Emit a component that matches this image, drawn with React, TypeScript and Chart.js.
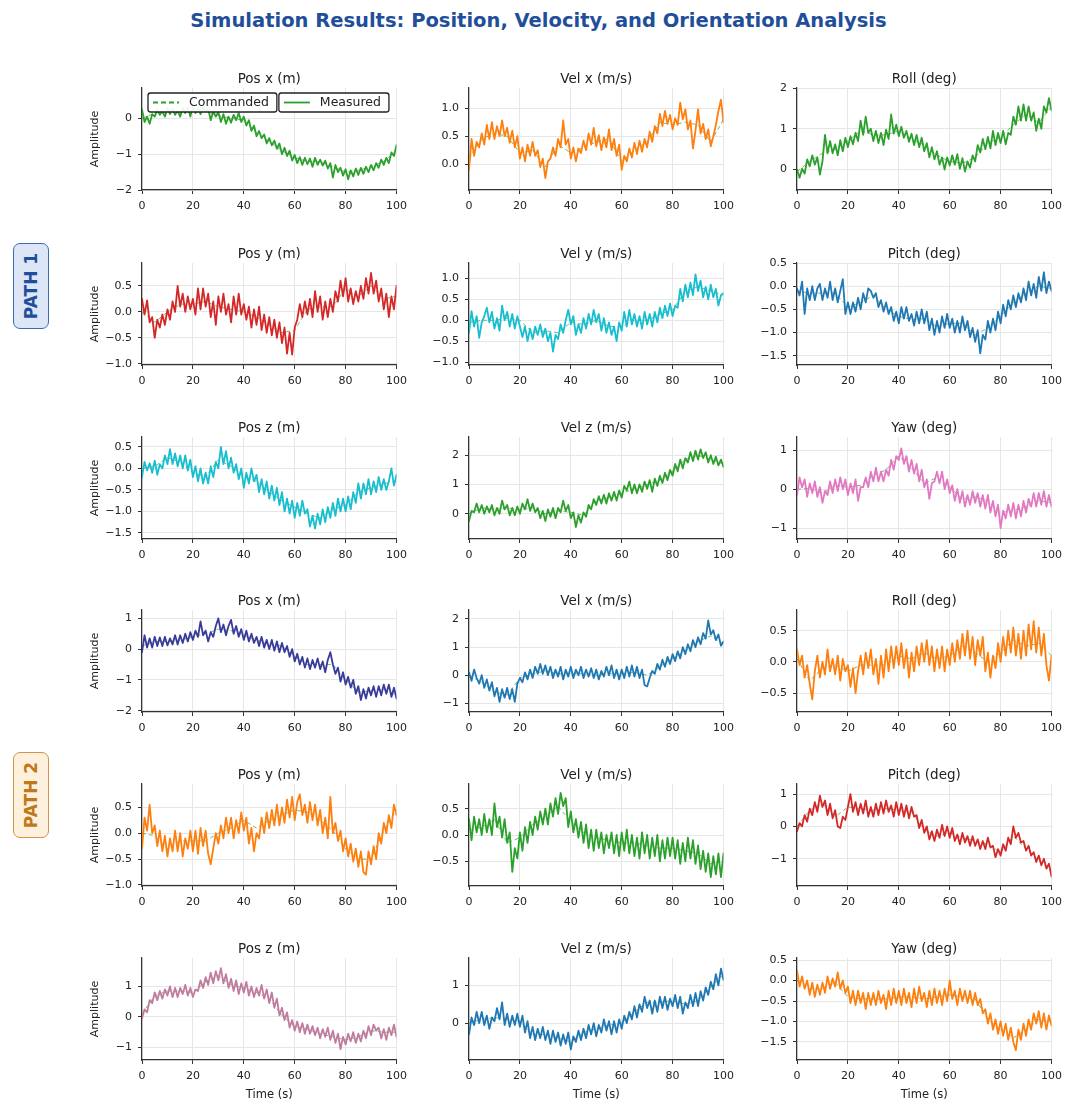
import React, { useEffect, useRef } from 'react';
import { Chart, registerables } from 'chart.js';

Chart.register(...registerables);

const FONT = "'DejaVu Sans', 'Liberation Sans', sans-serif";

// Sample times (s): measured signal every 1 s, commanded set-points every 5 s
const TIME = Array.from({ length: 101 }, (_, i) => i);
const CMD_TIME = Array.from({ length: 21 }, (_, i) => i * 5);
const X_TICKS = [0, 20, 40, 60, 80, 100];

// ---------------- PATH 1 ----------------
const P1_POS_X = [0.25, -0.1, 0.05, -0.15, 0.12, 0.05, 0.25, 0.1, 0.2, 0.05, 0.3, 0.12, 0.28, 0.1, 0.22, 0.05, 0.3, 0.15, 0.32, 0.05, 0.35, 0.15, 0.3, 0.12, 0.35, 0.2, 0.28, -0.05, 0.2, 0.05, 0.18, -0.1, 0.12, -0.15, 0.05, -0.12, 0.1, -0.05, 0.15, -0.1, 0.05, -0.2, -0.05, -0.35, -0.2, -0.5, -0.35, -0.55, -0.45, -0.7, -0.55, -0.75, -0.62, -0.85, -0.7, -1.0, -0.82, -1.05, -0.9, -1.18, -1.02, -1.25, -1.08, -1.3, -1.1, -1.28, -1.12, -1.35, -1.1, -1.3, -1.15, -1.32, -1.18, -1.4, -1.25, -1.65, -1.3, -1.5, -1.38, -1.6, -1.42, -1.7, -1.45, -1.62, -1.4, -1.58, -1.38, -1.55, -1.35, -1.5, -1.3, -1.45, -1.25, -1.38, -1.15, -1.3, -1.1, -1.25, -0.95, -1.05, -0.75];
const P1_POS_X_CMD = [0, 0.15, 0.2, 0.2, 0.22, 0.2, 0.08, 0, -0.05, -0.4, -0.65, -0.9, -1.1, -1.2, -1.22, -1.35, -1.5, -1.45, -1.35, -1.2, -0.9];

const P1_VEL_X = [-0.1, 0.45, 0.15, 0.4, 0.3, 0.55, 0.35, 0.7, 0.45, 0.75, 0.45, 0.68, 0.5, 0.78, 0.5, 0.65, 0.38, 0.6, 0.3, 0.5, 0.1, 0.3, 0.05, 0.35, 0.15, 0.4, 0.15, 0.25, -0.05, 0.1, -0.25, 0.05, 0.1, 0.3, 0.15, 0.45, 0.3, 0.78, 0.35, 0.45, 0.1, 0.3, 0.05, 0.28, 0.2, 0.42, 0.25, 0.55, 0.35, 0.65, 0.32, 0.52, 0.25, 0.48, 0.3, 0.62, 0.25, 0.45, 0.15, 0.35, -0.1, 0.15, 0.05, 0.28, 0.12, 0.38, 0.18, 0.42, 0.22, 0.45, 0.3, 0.58, 0.4, 0.68, 0.55, 0.9, 0.68, 0.95, 0.72, 0.88, 0.62, 0.82, 0.7, 1.1, 0.8, 0.98, 0.62, 0.78, 0.28, 0.6, 0.98, 0.55, 0.72, 0.45, 0.62, 0.32, 0.5, 0.7, 0.95, 1.15, 0.75];
const P1_VEL_X_CMD = [0.1, 0.45, 0.55, 0.5, 0.2, 0.25, -0.05, 0.35, 0.2, 0.3, 0.4, 0.45, 0.05, 0.25, 0.4, 0.75, 0.7, 0.75, 0.7, 0.4, 0.8];

const P1_ROLL = [0, -0.2, 0.02, -0.1, 0.25, 0.08, 0.35, 0.12, 0.3, -0.12, 0.2, 0.85, 0.4, 0.7, 0.4, 0.62, 0.35, 0.72, 0.45, 0.78, 0.55, 0.82, 0.62, 0.9, 0.7, 1.2, 0.85, 1.3, 0.9, 1.0, 0.7, 0.95, 0.65, 0.9, 0.6, 0.98, 0.75, 1.35, 0.88, 1.1, 0.82, 1.05, 0.78, 0.95, 0.68, 0.88, 0.6, 0.85, 0.55, 0.78, 0.45, 0.65, 0.3, 0.55, 0.25, 0.45, 0.12, 0.3, 0, 0.3, 0.1, 0.35, 0.12, 0.38, 0.02, 0.28, -0.05, 0.2, 0.05, 0.35, 0.2, 0.6, 0.42, 0.75, 0.5, 0.8, 0.52, 0.95, 0.6, 0.9, 0.65, 0.95, 0.62, 0.9, 0.85, 1.3, 1.1, 1.55, 1.2, 1.6, 1.2, 1.55, 1.2, 1.4, 0.95, 1.25, 1.0, 1.55, 1.4, 1.75, 1.45];
const P1_ROLL_CMD = [-0.05, 0.2, 0.4, 0.5, 0.7, 0.95, 0.85, 0.85, 0.95, 0.75, 0.6, 0.35, 0.2, 0.15, 0.3, 0.65, 0.8, 1.1, 1.35, 1.15, 1.55];

const P1_POS_Y = [0.25, -0.05, 0.22, -0.2, -0.1, -0.5, -0.15, -0.3, -0.05, -0.25, 0.05, -0.15, 0.2, 0, 0.5, 0.1, 0.35, 0, 0.3, 0.05, 0.25, -0.05, 0.45, 0.05, 0.45, 0.1, 0.35, -0.1, 0.2, -0.25, 0.3, 0, 0.35, -0.05, 0.15, -0.2, 0.3, -0.05, 0.35, -0.05, 0.15, -0.15, 0.1, -0.3, 0.05, -0.25, 0.1, -0.35, -0.05, -0.4, -0.1, -0.45, -0.15, -0.5, -0.2, -0.6, -0.3, -0.8, -0.4, -0.82, -0.3, -0.15, 0.15, -0.1, 0.2, -0.05, 0.25, -0.1, 0.4, 0, 0.3, -0.15, 0.2, -0.1, 0.25, 0, 0.4, 0.2, 0.6, 0.3, 0.65, 0.2, 0.45, 0.15, 0.4, 0.2, 0.5, 0.25, 0.65, 0.35, 0.75, 0.35, 0.6, 0.2, 0.45, 0.05, 0.35, -0.1, 0.3, 0.05, 0.5];
const P1_POS_Y_CMD = [0, -0.2, 0, 0.15, 0.15, 0.2, 0.1, 0.05, 0, -0.1, -0.25, -0.4, -0.35, 0.05, 0.1, 0.1, 0.45, 0.3, 0.5, 0.25, 0.3];

const P1_VEL_Y = [-0.3, 0.22, -0.15, 0.1, -0.42, -0.05, 0.1, 0.3, -0.05, 0.2, -0.2, 0.05, -0.25, 0.35, 0, 0.2, -0.15, 0.15, -0.2, 0.1, -0.15, -0.4, -0.15, -0.5, -0.2, -0.45, -0.15, -0.35, -0.1, -0.4, -0.2, -0.5, -0.3, -0.75, -0.35, -0.45, -0.1, -0.3, 0, 0.25, -0.1, 0.1, -0.35, -0.1, -0.3, 0.05, -0.2, 0.15, -0.1, 0.25, -0.05, 0.15, -0.25, 0.05, -0.3, -0.05, -0.35, -0.15, -0.5, -0.05, -0.25, 0.2, -0.15, 0.25, -0.1, 0.15, -0.15, 0.1, -0.2, 0.2, -0.1, 0.15, -0.15, 0.2, -0.05, 0.3, 0.05, 0.35, 0.1, 0.4, 0.1, 0.35, 0.3, 0.75, 0.45, 0.85, 0.55, 0.9, 0.6, 1.1, 0.7, 0.95, 0.55, 0.8, 0.5, 0.85, 0.55, 0.75, 0.35, 0.6, 0.65];
const P1_VEL_Y_CMD = [-0.05, 0, 0, 0.05, 0, -0.3, -0.25, -0.3, -0.05, -0.1, 0, -0.15, -0.15, 0, 0, 0.15, 0.25, 0.7, 0.8, 0.7, 0.6];

const P1_PITCH = [-0.05, -0.2, 0.1, -0.6, -0.05, -0.3, 0, -0.3, -0.05, 0.05, -0.3, -0.05, -0.25, 0.1, -0.3, -0.05, -0.35, -0.1, 0.15, -0.6, -0.35, -0.6, -0.35, -0.55, -0.25, -0.5, -0.15, -0.35, -0.05, -0.1, -0.25, -0.15, -0.45, -0.3, -0.55, -0.35, -0.6, -0.45, -0.75, -0.55, -0.8, -0.45, -0.7, -0.45, -0.75, -0.6, -0.85, -0.55, -0.8, -0.5, -0.8, -0.55, -0.95, -0.7, -1.05, -0.75, -1.0, -0.65, -0.9, -0.6, -0.9, -0.7, -1.0, -0.75, -1.0, -0.65, -0.95, -0.75, -1.1, -0.9, -1.2, -0.95, -1.45, -1.05, -1.15, -0.75, -1.0, -0.7, -0.95, -0.55, -0.8, -0.4, -0.65, -0.3, -0.5, -0.2, -0.45, -0.15, -0.35, -0.05, -0.3, 0.1, -0.2, 0.05, -0.25, 0.2, -0.1, 0.3, -0.15, 0.1, -0.1];
const P1_PITCH_CMD = [-0.1, -0.15, -0.15, -0.15, -0.45, -0.35, -0.2, -0.5, -0.65, -0.72, -0.7, -0.88, -0.8, -0.8, -1.05, -0.9, -0.65, -0.35, -0.15, 0, -0.05];

const P1_POS_Z = [-0.2, 0.15, -0.05, 0.12, -0.1, 0.18, -0.15, 0.1, 0, 0.3, 0.1, 0.45, 0.1, 0.35, 0.05, 0.3, 0, 0.3, -0.05, 0.2, -0.2, 0.05, -0.3, 0, -0.35, -0.1, -0.35, 0.05, -0.2, 0.15, 0, 0.5, 0.1, 0.4, 0, 0.25, -0.1, 0.1, -0.25, 0, -0.45, -0.1, -0.35, 0, -0.3, -0.15, -0.55, -0.25, -0.6, -0.3, -0.7, -0.4, -0.75, -0.45, -0.85, -0.55, -1.0, -0.7, -1.05, -0.75, -1.15, -0.8, -1.1, -0.75, -1.05, -0.95, -1.35, -1.1, -1.4, -1.05, -1.3, -0.95, -1.25, -0.9, -1.15, -0.8, -1.1, -0.7, -1.0, -0.7, -1.0, -0.65, -0.95, -0.55, -0.8, -0.35, -0.7, -0.35, -0.6, -0.25, -0.6, -0.3, -0.55, -0.2, -0.5, -0.25, -0.5, -0.3, 0, -0.4, -0.15];
const P1_POS_Z_CMD = [0, 0.05, 0.25, 0.15, -0.1, -0.2, 0.2, 0.05, -0.2, -0.3, -0.55, -0.75, -0.9, -1.05, -1.15, -0.95, -0.85, -0.55, -0.45, -0.35, -0.3];

const P1_VEL_Z = [-0.25, 0.1, 0.05, 0.35, 0.05, 0.3, 0, 0.25, 0.05, 0.3, -0.05, 0.2, 0, 0.45, 0.15, 0.3, -0.05, 0.2, -0.05, 0.25, 0, 0.35, 0.15, 0.5, 0.1, 0.35, 0.05, 0.2, -0.15, 0.1, -0.25, 0.15, -0.1, 0.2, -0.15, 0.2, 0.05, 0.45, 0.1, 0.3, -0.15, 0.05, -0.45, -0.05, -0.3, 0.05, -0.1, 0.3, 0.15, 0.5, 0.3, 0.6, 0.35, 0.65, 0.35, 0.7, 0.45, 0.75, 0.45, 0.8, 0.55, 0.95, 0.8, 1.1, 0.7, 1.0, 0.7, 1.0, 0.75, 1.1, 0.85, 1.15, 0.75, 1.2, 0.95, 1.3, 1.05, 1.4, 1.15, 1.5, 1.3, 1.7, 1.45, 1.85, 1.55, 1.9, 1.75, 2.1, 1.8, 2.15, 1.85, 2.2, 1.9, 2.1, 1.75, 2.0, 1.7, 1.95, 1.65, 1.85, 1.6];
const P1_VEL_Z_CMD = [0, 0.2, 0.15, 0.2, 0.15, 0.2, 0, 0.1, 0.05, -0.05, 0.45, 0.55, 0.7, 0.85, 1.0, 1.15, 1.45, 1.85, 2.0, 1.85, 1.7];

const P1_YAW = [-0.15, 0.3, 0.05, 0.25, -0.2, 0.15, -0.1, 0.2, -0.2, 0.05, -0.35, -0.05, -0.15, 0.2, -0.1, 0.25, -0.05, 0.3, 0, 0.25, -0.15, 0.15, -0.1, 0.25, -0.3, 0.05, 0.05, 0.3, 0.05, 0.45, 0.2, 0.55, 0.2, 0.45, 0.2, 0.5, 0.35, 0.75, 0.5, 0.85, 0.75, 1.05, 0.65, 0.85, 0.45, 0.75, 0.4, 0.65, 0.2, 0.5, 0.05, 0.25, -0.25, 0.15, 0.2, 0.45, 0.15, 0.45, 0, 0.25, -0.1, 0.1, -0.3, 0, -0.35, -0.05, -0.45, -0.15, -0.4, -0.05, -0.35, -0.1, -0.45, -0.15, -0.5, -0.15, -0.6, -0.3, -0.7, -0.4, -1.0, -0.55, -0.75, -0.4, -0.7, -0.35, -0.75, -0.4, -0.7, -0.3, -0.6, -0.25, -0.45, -0.1, -0.45, -0.1, -0.4, -0.05, -0.45, -0.15, -0.45];
const P1_YAW_CMD = [0, 0.02, -0.1, 0.1, 0.05, 0.1, 0.35, 0.5, 0.85, 0.55, 0.15, 0.3, 0.05, -0.25, -0.2, -0.3, -0.6, -0.55, -0.45, -0.3, -0.35];

// ---------------- PATH 2 ----------------
const P2_POS_X = [-0.1, 0.45, 0.05, 0.35, 0.05, 0.4, 0.1, 0.38, 0.1, 0.4, 0.12, 0.35, 0.15, 0.45, 0.15, 0.45, 0.2, 0.5, 0.25, 0.55, 0.3, 0.6, 0.4, 0.9, 0.45, 0.6, 0.25, 0.55, 0.4, 0.75, 1.0, 0.55, 0.8, 0.45, 0.75, 0.95, 0.5, 0.75, 0.4, 0.65, 0.3, 0.6, 0.25, 0.5, 0.2, 0.4, 0.1, 0.4, 0.05, 0.3, 0, 0.3, -0.05, 0.25, -0.1, 0.2, -0.1, 0.1, -0.25, 0, -0.4, -0.15, -0.5, -0.25, -0.6, -0.3, -0.65, -0.35, -0.6, -0.3, -0.65, -0.4, -0.75, -0.35, -0.1, -0.5, -0.8, -0.6, -1.05, -0.75, -1.15, -0.9, -1.25, -1.0, -1.45, -1.2, -1.65, -1.3, -1.6, -1.25, -1.5, -1.2, -1.55, -1.2, -1.5, -1.15, -1.45, -1.15, -1.55, -1.25, -1.6];
const P2_POS_X_CMD = [0.1, 0.25, 0.25, 0.3, 0.4, 0.5, 0.65, 0.6, 0.45, 0.3, 0.15, 0.1, -0.25, -0.5, -0.5, -0.5, -1.0, -1.4, -1.35, -1.3, -1.5];

const P2_VEL_X = [0.1, -0.2, 0.2, -0.1, -0.3, 0, -0.45, -0.15, -0.55, -0.25, -0.75, -0.45, -0.95, -0.5, -0.8, -0.45, -0.85, -0.5, -0.95, -0.3, -0.1, -0.25, 0.1, -0.15, 0.2, -0.1, 0.3, 0.05, 0.4, 0.05, 0.35, 0, 0.3, -0.1, 0.2, -0.05, 0.3, -0.15, 0.2, -0.05, 0.3, -0.1, 0.2, 0, 0.3, -0.1, 0.2, -0.05, 0.25, -0.1, 0.2, -0.15, 0.15, -0.05, 0.3, 0, 0.35, -0.1, 0.2, -0.15, 0.2, -0.1, 0.3, -0.05, 0.35, -0.05, 0.3, -0.1, 0.2, -0.35, -0.4, -0.1, 0.15, 0.05, 0.4, 0.2, 0.55, 0.3, 0.65, 0.4, 0.75, 0.5, 0.85, 0.6, 1.0, 0.75, 1.1, 0.85, 1.25, 1.0, 1.35, 1.1, 1.5, 1.3, 1.95, 1.45, 1.6, 1.25, 1.45, 1.05, 1.2];
const P2_VEL_X_CMD = [0, -0.25, -0.6, -0.7, -0.1, 0.05, 0.15, 0.05, 0.05, 0.05, 0, 0.05, 0.05, 0.1, 0, 0.3, 0.6, 0.85, 1.2, 1.4, 1.1];

const P2_ROLL = [0.2, -0.05, 0.1, -0.25, -0.05, -0.35, -0.6, -0.15, 0.1, -0.25, 0, -0.2, 0.2, -0.15, 0.05, -0.2, 0.1, -0.3, 0.05, -0.15, -0.05, -0.4, -0.1, -0.5, -0.15, 0.1, -0.2, 0.15, -0.1, 0.2, -0.2, 0.05, -0.35, 0.1, -0.25, 0.2, -0.15, 0.25, -0.1, 0.25, -0.05, 0.3, -0.1, 0.2, -0.25, 0.15, -0.15, 0.25, -0.05, 0.3, 0, 0.35, -0.05, 0.25, -0.15, 0.2, -0.1, 0.25, -0.15, 0.2, -0.05, 0.3, 0, 0.35, 0.05, 0.45, 0.1, 0.5, 0.05, 0.4, -0.05, 0.35, 0.1, 0.4, -0.15, 0.15, -0.25, 0.1, -0.1, 0.3, 0, 0.4, 0.1, 0.5, 0.15, 0.55, 0.1, 0.45, 0.05, 0.5, 0.1, 0.6, 0.2, 0.65, 0.15, 0.55, 0.1, 0.45, -0.05, -0.3, 0.1];
const P2_ROLL_CMD = [0.05, -0.3, -0.1, -0.05, -0.15, -0.05, -0.05, -0.05, 0.1, 0.05, 0.15, 0.05, 0.1, 0.25, 0.15, 0, 0.15, 0.35, 0.25, 0.3, 0.1];

const P2_POS_Y = [-0.3, 0.3, 0.05, 0.55, 0, 0.15, -0.25, 0.05, -0.35, -0.05, -0.45, -0.1, -0.35, 0.05, -0.35, 0, -0.45, -0.1, -0.3, 0.05, -0.35, 0.05, -0.4, 0.1, -0.25, 0.05, -0.4, -0.6, -0.3, 0, -0.2, 0.15, -0.1, 0.3, 0, 0.3, -0.1, 0.25, 0, 0.4, 0.05, 0.3, -0.2, 0.1, -0.35, 0, -0.1, 0.3, 0, 0.4, 0.1, 0.45, 0.15, 0.55, 0.15, 0.5, 0.2, 0.65, 0.3, 0.7, 0.25, 0.6, 0.75, 0.35, 0.55, 0.2, 0.6, 0.25, 0.55, 0.15, 0.45, 0, 0.3, -0.1, 0.7, 0, 0.2, -0.15, 0.05, -0.35, -0.1, -0.45, -0.2, -0.55, -0.3, -0.65, -0.35, -0.75, -0.8, -0.35, -0.6, -0.25, -0.5, 0, -0.2, 0.2, 0, 0.35, 0.1, 0.55, 0.35];
const P2_POS_Y_CMD = [0, -0.05, -0.3, -0.15, -0.15, -0.15, 0, 0.1, 0.25, 0.1, 0.25, 0.35, 0.45, 0.4, 0.25, 0.05, -0.3, -0.5, -0.5, 0.05, 0.45];

const P2_VEL_Y = [0.3, -0.1, 0.35, 0.05, 0.3, 0, 0.4, 0.05, 0.3, 0, 0.6, 0.15, 0.35, -0.05, 0.3, -0.15, 0.05, -0.7, -0.25, -0.45, 0.05, -0.3, 0.15, -0.15, 0.25, 0, 0.35, 0.1, 0.45, 0.2, 0.5, 0.2, 0.6, 0.35, 0.7, 0.4, 0.8, 0.55, 0.7, 0.15, 0.45, 0.05, 0.3, -0.05, 0.25, -0.15, 0.2, -0.25, 0.1, -0.3, 0.1, -0.25, 0.05, -0.35, 0, -0.25, 0.05, -0.35, 0, -0.4, 0.05, -0.3, 0.1, -0.35, 0, -0.4, -0.05, -0.45, 0.05, -0.35, 0, -0.45, -0.05, -0.4, 0, -0.5, -0.1, -0.45, -0.05, -0.4, -0.05, -0.45, -0.1, -0.55, -0.15, -0.5, -0.05, -0.45, -0.1, -0.55, -0.2, -0.65, -0.3, -0.7, -0.35, -0.8, -0.4, -0.75, -0.35, -0.8, -0.35];
const P2_VEL_Y_CMD = [0.1, 0.15, 0.3, -0.15, -0.05, 0.2, 0.35, 0.55, 0.25, 0.05, -0.05, -0.1, -0.15, -0.15, -0.2, -0.25, -0.25, -0.3, -0.35, -0.55, -0.5];

const P2_PITCH = [-0.15, 0.1, 0, 0.35, 0.15, 0.55, 0.35, 0.75, 0.45, 0.95, 0.6, 0.8, 0.35, 0.7, 0.25, 0.5, 0, -0.05, 0.3, 0.2, 0.6, 1.0, 0.45, 0.75, 0.35, 0.7, 0.4, 0.8, 0.3, 0.6, 0.3, 0.7, 0.35, 0.75, 0.4, 0.8, 0.45, 0.65, 0.3, 0.75, 0.35, 0.7, 0.3, 0.65, 0.25, 0.6, 0.3, 0.35, -0.05, 0.2, -0.2, 0, -0.4, -0.15, -0.45, -0.1, -0.35, 0.05, -0.3, 0, -0.35, -0.05, -0.45, -0.25, -0.55, -0.2, -0.5, -0.3, -0.6, -0.3, -0.6, -0.4, -0.7, -0.45, -0.7, -0.35, -0.65, -0.6, -0.95, -0.7, -0.9, -0.55, -0.75, -0.35, -0.55, 0, -0.35, -0.2, -0.5, -0.45, -0.75, -0.6, -0.9, -0.8, -1.1, -0.9, -1.2, -1.0, -1.3, -1.15, -1.55];
const P2_PITCH_CMD = [0, 0.5, 0.7, 0.3, 0.6, 0.55, 0.5, 0.55, 0.5, 0.45, -0.1, -0.3, -0.2, -0.35, -0.45, -0.55, -0.8, -0.3, -0.7, -1.05, -1.4];

const P2_POS_Z = [-0.05, 0.25, 0.15, 0.55, 0.45, 0.8, 0.55, 0.85, 0.6, 0.9, 0.7, 1.0, 0.65, 0.95, 0.65, 0.95, 0.75, 1.05, 0.7, 0.95, 0.65, 0.9, 0.85, 1.2, 0.95, 1.3, 1.05, 1.45, 1.1, 1.5, 1.2, 1.6, 1.1, 1.4, 0.95, 1.25, 0.85, 1.2, 0.75, 1.1, 0.8, 1.15, 0.7, 1.0, 0.65, 0.95, 0.7, 1.05, 0.6, 0.9, 0.45, 0.8, 0.3, 0.6, 0.05, 0.3, -0.1, 0.15, -0.35, -0.1, -0.45, -0.15, -0.5, -0.2, -0.55, -0.25, -0.55, -0.3, -0.6, -0.35, -0.7, -0.4, -0.65, -0.35, -0.75, -0.45, -0.85, -0.55, -1.05, -0.65, -0.9, -0.55, -0.8, -0.5, -0.85, -0.55, -0.8, -0.45, -0.7, -0.3, -0.6, -0.25, -0.45, -0.35, -0.7, -0.4, -0.75, -0.35, -0.6, -0.25, -0.65];
const P2_POS_Z_CMD = [0.1, 0.7, 0.85, 0.85, 0.8, 1.15, 1.35, 1.05, 0.95, 0.8, 0.6, 0.05, -0.3, -0.4, -0.55, -0.65, -0.75, -0.65, -0.45, -0.5, -0.5];

const P2_VEL_Z = [-0.3, 0.15, -0.05, 0.3, 0, 0.3, -0.05, 0.2, -0.15, 0.15, 0.05, 0.4, 0.1, 0.55, -0.05, 0.25, -0.1, 0.2, -0.05, 0.25, -0.1, 0.2, -0.25, 0.05, -0.4, -0.1, -0.45, -0.15, -0.4, -0.1, -0.45, -0.2, -0.55, -0.2, -0.5, -0.25, -0.6, -0.3, -0.55, -0.25, -0.7, -0.35, -0.5, -0.2, -0.45, -0.15, -0.4, -0.05, -0.3, 0, -0.35, -0.05, -0.25, 0.1, -0.2, 0.05, -0.3, 0.05, -0.25, 0.1, -0.15, 0.2, 0, 0.3, 0.1, 0.45, 0.15, 0.5, 0.3, 0.7, 0.4, 0.6, 0.25, 0.6, 0.3, 0.7, 0.4, 0.7, 0.35, 0.65, 0.45, 0.75, 0.4, 0.7, 0.25, 0.55, 0.4, 0.75, 0.45, 0.8, 0.45, 0.85, 0.6, 0.95, 0.75, 1.1, 0.9, 1.3, 1.0, 1.45, 1.15];
const P2_VEL_Z_CMD = [0, 0.1, 0.15, 0.1, 0.05, -0.3, -0.3, -0.4, -0.5, -0.25, -0.15, -0.05, 0, 0.3, 0.55, 0.55, 0.6, 0.5, 0.6, 0.95, 1.3];

const P2_YAW = [0.25, -0.15, 0.1, -0.2, 0, -0.35, -0.05, -0.4, -0.1, -0.35, -0.05, -0.3, 0.1, -0.2, 0.05, -0.15, 0.2, -0.2, 0, -0.3, -0.15, -0.55, -0.25, -0.6, -0.25, -0.55, -0.3, -0.7, -0.3, -0.6, -0.3, -0.6, -0.25, -0.55, -0.35, -0.7, -0.25, -0.6, -0.2, -0.55, -0.25, -0.6, -0.2, -0.55, -0.3, -0.65, -0.2, -0.55, -0.15, -0.5, -0.3, -0.65, -0.25, -0.6, -0.2, -0.55, -0.25, -0.6, -0.2, -0.5, 0, -0.45, -0.25, -0.6, -0.2, -0.5, -0.25, -0.55, -0.25, -0.6, -0.3, -0.6, -0.45, -0.8, -0.7, -1.05, -0.8, -1.2, -0.95, -1.3, -1.0, -1.35, -1.05, -1.45, -1.15, -1.5, -1.7, -1.2, -1.45, -1.05, -1.35, -0.95, -1.2, -0.8, -1.05, -0.75, -1.15, -0.8, -1.2, -0.85, -1.1];
const P2_YAW_CMD = [0, -0.2, -0.2, -0.05, -0.4, -0.45, -0.45, -0.45, -0.4, -0.4, -0.45, -0.4, -0.35, -0.4, -0.45, -0.95, -1.2, -1.4, -1.2, -0.95, -1.0];

// Y tick labels of each panel
const TICKS_POS_X_1 = ['\u22122', '\u22121', '0'];
const TICKS_VEL_X_1 = ['0.0', '0.5', '1.0'];
const TICKS_ROLL_1 = ['0', '1', '2'];
const TICKS_POS_Y_1 = ['\u22121.0', '\u22120.5', '0.0', '0.5'];
const TICKS_VEL_Y_1 = ['\u22121.0', '\u22120.5', '0.0', '0.5', '1.0'];
const TICKS_PITCH_1 = ['\u22121.5', '\u22121.0', '\u22120.5', '0.0', '0.5'];
const TICKS_POS_Z_1 = ['\u22121.5', '\u22121.0', '\u22120.5', '0.0', '0.5'];
const TICKS_VEL_Z_1 = ['0', '1', '2'];
const TICKS_YAW_1 = ['\u22121', '0', '1'];
const TICKS_POS_X_2 = ['\u22122', '\u22121', '0', '1'];
const TICKS_VEL_X_2 = ['\u22121', '0', '1', '2'];
const TICKS_ROLL_2 = ['\u22120.5', '0.0', '0.5'];
const TICKS_POS_Y_2 = ['\u22121.0', '\u22120.5', '0.0', '0.5'];
const TICKS_VEL_Y_2 = ['\u22120.5', '0.0', '0.5'];
const TICKS_PITCH_2 = ['\u22121', '0', '1'];
const TICKS_POS_Z_2 = ['\u22121', '0', '1'];
const TICKS_VEL_Z_2 = ['0', '1'];
const TICKS_YAW_2 = ['\u22121.5', '\u22121.0', '\u22120.5', '0.0', '0.5'];

const LEGEND_ITEMS = [
  { label: 'Commanded', dash: [5, 3] },
  { label: 'Measured', dash: [] as number[] },
];

type PanelSpec = {
  title: string;
  color: string;
  measured: number[];
  commanded: number[];
  yMin: number;
  yMax: number;
  yTicks: string[];
};

const PANELS: PanelSpec[][] = [
  [
    { title: 'Pos x (m)', color: '#2ca02c', measured: P1_POS_X, commanded: P1_POS_X_CMD, yMin: -2.0, yMax: 0.85, yTicks: TICKS_POS_X_1 },
    { title: 'Vel x (m/s)', color: '#ff7f0e', measured: P1_VEL_X, commanded: P1_VEL_X_CMD, yMin: -0.46, yMax: 1.36, yTicks: TICKS_VEL_X_1 },
    { title: 'Roll (deg)', color: '#2ca02c', measured: P1_ROLL, commanded: P1_ROLL_CMD, yMin: -0.5, yMax: 2.0, yTicks: TICKS_ROLL_1 },
  ],
  [
    { title: 'Pos y (m)', color: '#d62728', measured: P1_POS_Y, commanded: P1_POS_Y_CMD, yMin: -1.02, yMax: 0.94, yTicks: TICKS_POS_Y_1 },
    { title: 'Vel y (m/s)', color: '#17becf', measured: P1_VEL_Y, commanded: P1_VEL_Y_CMD, yMin: -1.07, yMax: 1.37, yTicks: TICKS_VEL_Y_1 },
    { title: 'Pitch (deg)', color: '#1f77b4', measured: P1_PITCH, commanded: P1_PITCH_CMD, yMin: -1.7, yMax: 0.5, yTicks: TICKS_PITCH_1 },
  ],
  [
    { title: 'Pos z (m)', color: '#17becf', measured: P1_POS_Z, commanded: P1_POS_Z_CMD, yMin: -1.64, yMax: 0.73, yTicks: TICKS_POS_Z_1 },
    { title: 'Vel z (m/s)', color: '#2ca02c', measured: P1_VEL_Z, commanded: P1_VEL_Z_CMD, yMin: -0.86, yMax: 2.62, yTicks: TICKS_VEL_Z_1 },
    { title: 'Yaw (deg)', color: '#e377c2', measured: P1_YAW, commanded: P1_YAW_CMD, yMin: -1.28, yMax: 1.34, yTicks: TICKS_YAW_1 },
  ],
  [
    { title: 'Pos x (m)', color: '#393b9a', measured: P2_POS_X, commanded: P2_POS_X_CMD, yMin: -2.04, yMax: 1.27, yTicks: TICKS_POS_X_2 },
    { title: 'Vel x (m/s)', color: '#1f77b4', measured: P2_VEL_X, commanded: P2_VEL_X_CMD, yMin: -1.31, yMax: 2.32, yTicks: TICKS_VEL_X_2 },
    { title: 'Roll (deg)', color: '#ff7f0e', measured: P2_ROLL, commanded: P2_ROLL_CMD, yMin: -0.8, yMax: 0.83, yTicks: TICKS_ROLL_2 },
  ],
  [
    { title: 'Pos y (m)', color: '#ff7f0e', measured: P2_POS_Y, commanded: P2_POS_Y_CMD, yMin: -1.02, yMax: 0.95, yTicks: TICKS_POS_Y_2 },
    { title: 'Vel y (m/s)', color: '#2ca02c', measured: P2_VEL_Y, commanded: P2_VEL_Y_CMD, yMin: -0.97, yMax: 0.97, yTicks: TICKS_VEL_Y_2 },
    { title: 'Pitch (deg)', color: '#d62728', measured: P2_PITCH, commanded: P2_PITCH_CMD, yMin: -1.84, yMax: 1.31, yTicks: TICKS_PITCH_2 },
  ],
  [
    { title: 'Pos z (m)', color: '#c27ba0', measured: P2_POS_Z, commanded: P2_POS_Z_CMD, yMin: -1.41, yMax: 1.93, yTicks: TICKS_POS_Z_2 },
    { title: 'Vel z (m/s)', color: '#1f77b4', measured: P2_VEL_Z, commanded: P2_VEL_Z_CMD, yMin: -0.98, yMax: 1.73, yTicks: TICKS_VEL_Z_2 },
    { title: 'Yaw (deg)', color: '#ff7f0e', measured: P2_YAW, commanded: P2_YAW_CMD, yMin: -1.94, yMax: 0.55, yTicks: TICKS_YAW_2 },
  ],
];

// Grid geometry (page pixels)
const PLOT_LEFT = [142, 469, 797];
const PLOT_TOP = [88, 263, 437, 610, 784, 958];
const PLOT_W = 255;
const PLOT_H = 102;
const AXIS_W = 62;
const TITLE_H = 26;
const RIGHT_PAD = 16;
const X_AXIS_H = 30;
const X_AXIS_H_LAST = 42;

const CMD_COLOR = '#2ca02c';

const legendBoxes = {
  id: 'legendBoxes',
  afterDatasetsDraw(chart: Chart) {
    const { ctx, chartArea } = chart;
    ctx.save();
    ctx.font = `12.5px ${FONT}`;
    ctx.textBaseline = 'middle';
    let x = chartArea.left + 6;
    const y = chartArea.top + 5;
    const h = 19;
    LEGEND_ITEMS.forEach((item) => {
      const tw = ctx.measureText(item.label).width;
      const w = 5 + 26 + 10 + tw + 8;
      ctx.beginPath();
      ctx.roundRect(x, y, w, h, 2.5);
      ctx.fillStyle = 'rgba(255,255,255,0.92)';
      ctx.fill();
      ctx.setLineDash([]);
      ctx.lineWidth = 1.3;
      ctx.strokeStyle = '#222';
      ctx.stroke();
      ctx.beginPath();
      ctx.setLineDash(item.dash);
      ctx.moveTo(x + 5, y + h / 2);
      ctx.lineTo(x + 31, y + h / 2);
      ctx.strokeStyle = CMD_COLOR;
      ctx.lineWidth = 1.8;
      ctx.stroke();
      ctx.setLineDash([]);
      ctx.fillStyle = '#222';
      ctx.fillText(item.label, x + 41, y + h / 2 + 0.5);
      x += w + 2;
    });
    ctx.restore();
  },
};

function Panel({ spec, row, col }: { spec: PanelSpec; row: number; col: number }) {
  const ref = useRef<HTMLCanvasElement>(null);
  const lastRow = row === PLOT_TOP.length - 1;
  const xAxisH = lastRow ? X_AXIS_H_LAST : X_AXIS_H;
  const width = AXIS_W + PLOT_W + RIGHT_PAD;
  const height = TITLE_H + PLOT_H + xAxisH;

  useEffect(() => {
    const yTickValues = spec.yTicks.map((s) => parseFloat(s.replace('\u2212', '-')));
    const chart = new Chart(ref.current as HTMLCanvasElement, {
      type: 'line',
      data: {
        datasets: [
          {
            label: 'Measured',
            data: TIME.map((t, i) => ({ x: t, y: spec.measured[i] })),
            borderColor: spec.color,
            borderWidth: 1.8,
            borderJoinStyle: 'round',
            borderCapStyle: 'round',
            pointRadius: 0,
            tension: 0,
            fill: false,
            order: 0,
          },
          {
            label: 'Commanded',
            data: CMD_TIME.map((t, i) => ({ x: t, y: spec.commanded[i] })),
            borderColor: 'rgba(44,160,44,0.7)',
            borderDash: [4, 3],
            borderWidth: 1,
            pointRadius: 0,
            tension: 0,
            fill: false,
            order: 1,
          },
        ],
      },
      options: {
        responsive: false,
        animation: false,
        devicePixelRatio: 1,
        layout: { padding: { left: 0, right: RIGHT_PAD, top: 0, bottom: 0 } },
        plugins: {
          legend: { display: false },
          tooltip: { enabled: false },
          title: {
            display: true,
            fullSize: false,
            text: spec.title,
            color: '#222',
            font: { family: FONT, size: 13.5, weight: 'normal', lineHeight: 1.2 },
            padding: { top: 8.9, bottom: 0.9 },
          },
        },
        scales: {
          x: {
            type: 'linear',
            min: 0,
            max: 100,
            bounds: 'data',
            afterBuildTicks: (s: any) => {
              s.ticks = X_TICKS.map((v) => ({ value: v }));
            },
            afterFit: (s: any) => {
              s.height = xAxisH;
            },
            grid: { color: '#e6e6e6', lineWidth: 1, tickColor: '#333', tickLength: 4, tickWidth: 1 },
            border: { color: '#333', width: 1.2 },
            ticks: {
              color: '#222',
              font: { family: FONT, size: 11 },
              padding: 6,
              maxRotation: 0,
              autoSkip: false,
              callback: (v: any) => String(v),
            },
            title: {
              display: lastRow,
              text: 'Time (s)',
              color: '#222',
              font: { family: FONT, size: 11.5 },
              padding: { top: 0, bottom: 0 },
            },
          },
          y: {
            type: 'linear',
            min: spec.yMin,
            max: spec.yMax,
            bounds: 'data',
            afterBuildTicks: (s: any) => {
              s.ticks = yTickValues.map((v) => ({ value: v }));
            },
            afterFit: (s: any) => {
              s.width = AXIS_W;
            },
            grid: { color: '#e6e6e6', lineWidth: 1, tickColor: '#333', tickLength: 4, tickWidth: 1 },
            border: { color: '#333', width: 1.2 },
            ticks: {
              color: '#222',
              font: { family: FONT, size: 11 },
              padding: 6,
              autoSkip: false,
              callback: (_v: any, i: number) => spec.yTicks[i],
            },
            title: {
              display: col === 0,
              text: 'Amplitude',
              color: '#222',
              font: { family: FONT, size: 11 },
              padding: { top: 8.4, bottom: 0 },
            },
          },
        },
      } as any,
      plugins: row === 0 && col === 0 ? [legendBoxes as any] : [],
    });
    return () => chart.destroy();
  }, [spec, row, col, xAxisH, lastRow]);

  return (
    <canvas
      ref={ref}
      width={width}
      height={height}
      style={{
        position: 'absolute',
        left: PLOT_LEFT[col] - AXIS_W,
        top: PLOT_TOP[row] - TITLE_H,
        width,
        height,
      }}
    />
  );
}

function PathTag({ text, cx, cy, fg, bg, border }: { text: string; cx: number; cy: number; fg: string; bg: string; border: string }) {
  const w = 86;
  const h = 36;
  return (
    <div
      style={{
        position: 'absolute',
        left: cx - w / 2,
        top: cy - h / 2,
        width: w,
        height: h,
        boxSizing: 'border-box',
        transform: 'rotate(-90deg)',
        border: `1.5px solid ${border}`,
        borderRadius: 7,
        background: bg,
        color: fg,
        fontFamily: FONT,
        fontWeight: 'bold',
        fontSize: 17,
        display: 'flex',
        alignItems: 'center',
        justifyContent: 'center',
      }}
    >
      {text}
    </div>
  );
}

export default function App() {
  return (
    <div
      style={{
        position: 'absolute',
        left: 0,
        top: 0,
        width: 1077,
        height: 1107,
        background: '#fff',
        overflow: 'hidden',
      }}
    >
      <div
        style={{
          position: 'absolute',
          left: 0,
          top: 9,
          width: 1077,
          textAlign: 'center',
          fontFamily: FONT,
          fontWeight: 'bold',
          fontSize: 19.5,
          lineHeight: '24px',
          color: '#1f4e9a',
        }}
      >
        Simulation Results: Position, Velocity, and Orientation Analysis
      </div>
      <PathTag text="PATH 1" cx={31} cy={285.5} fg="#1f4e9a" bg="#dce6f6" border="#3b6bb5" />
      <PathTag text="PATH 2" cx={31} cy={794.5} fg="#c07818" bg="#fdf1de" border="#d09545" />
      {PANELS.map((rowSpecs, r) =>
        rowSpecs.map((spec, c) => <Panel key={`${r}-${c}`} spec={spec} row={r} col={c} />)
      )}
    </div>
  );
}
